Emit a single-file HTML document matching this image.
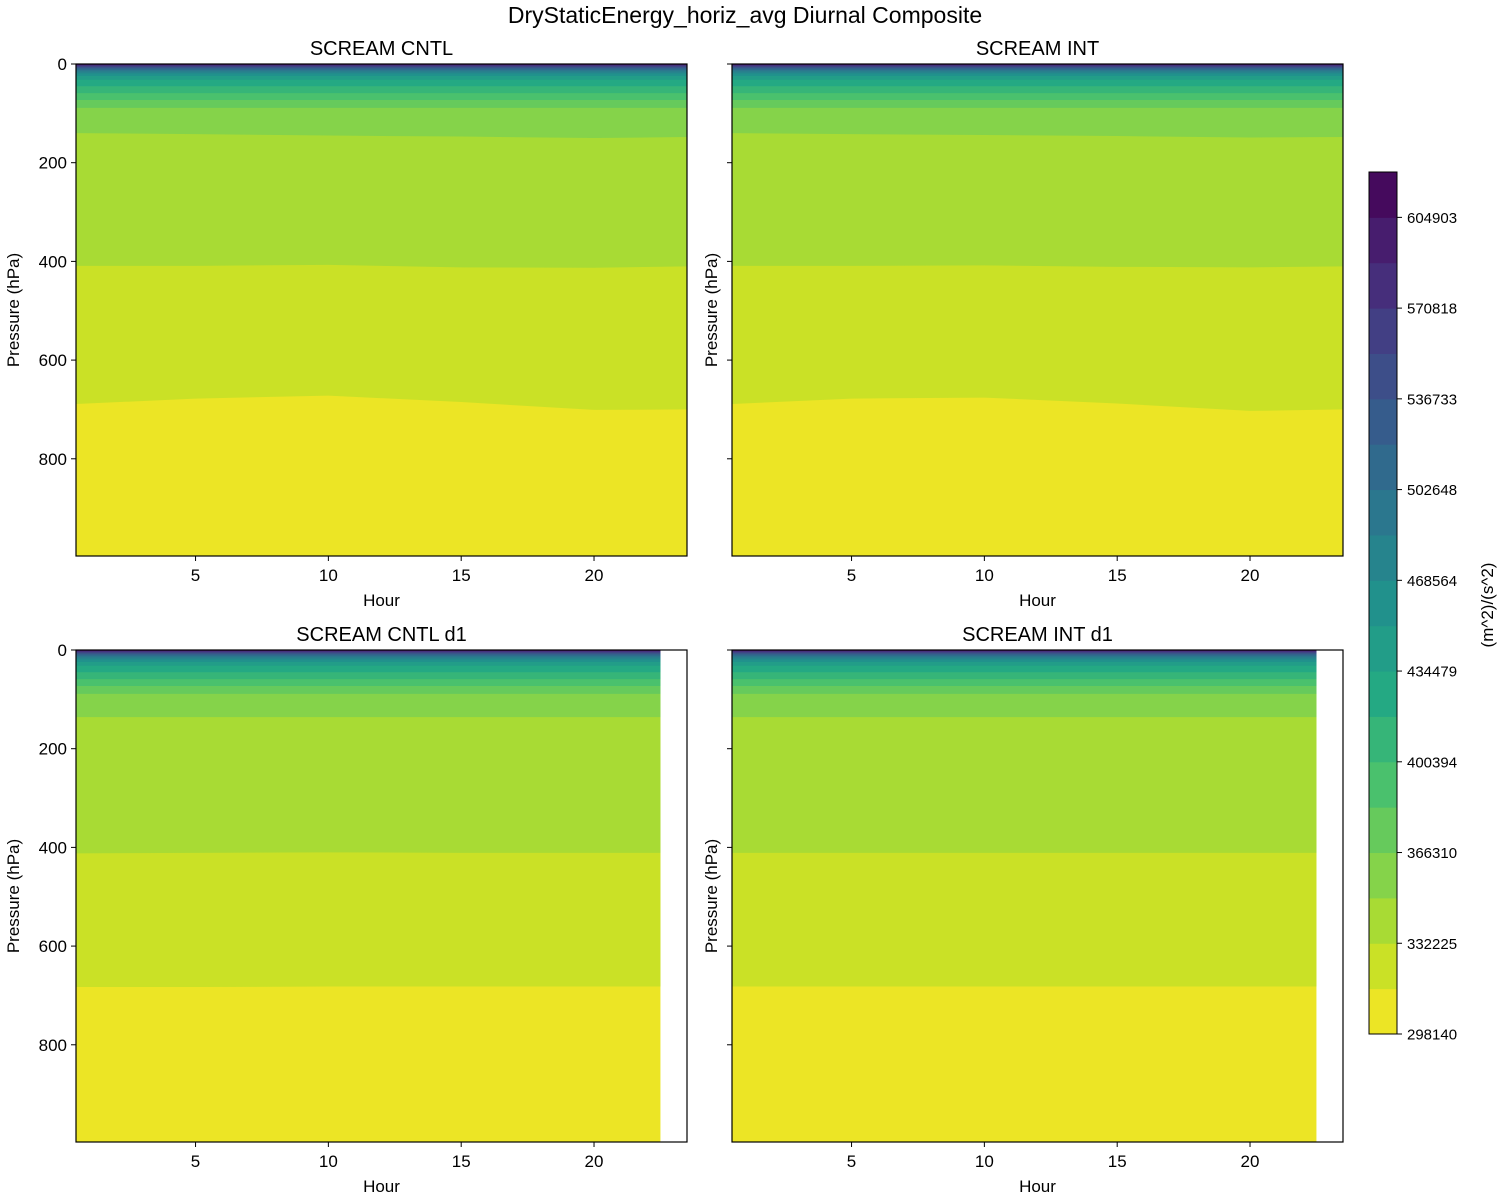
<!DOCTYPE html>
<html><head><meta charset="utf-8"><style>
body{margin:0;background:#fff}
svg{display:block;font-family:"Liberation Sans","DejaVu Sans",sans-serif}
</style></head><body>
<svg id="fig" width="1500" height="1200" xmlns="http://www.w3.org/2000/svg">
<text x="745" y="23" font-size="23" text-anchor="middle">DryStaticEnergy_horiz_avg Diurnal Composite</text>
</svg>
<script>
// ---- data ----
const levelMin = 298140;
const levelStep = 17042.5;
const levelCount = 19;
const cbTickValues = [298140, 332225, 366310, 400394, 434479, 468564, 502648, 536733, 570818, 604903];
const hours = [0.5, 5, 10, 15, 20, 23.5];
const hoursD1 = [0.5, 5, 10, 15, 20, 22.5];
const upperLevelsP = [89, 73, 59, 45, 32, 24, 19, 15, 12, 9, 7, 5, 3.5, 2, 1, 0.5];
const cntlL1 = [689, 678, 672, 685, 701, 700];
const cntlL2 = [409, 409, 407, 412, 413, 410];
const cntlL3 = [140, 142, 145, 147, 150, 148];
const intL1 = [689, 678, 676, 688, 703, 700];
const intL2 = [409, 409, 408, 411, 412, 410];
const intL3 = [140, 142, 144, 146, 149, 148];
const cntlD1L1 = [683, 683, 682, 682, 682, 682];
const cntlD1L2 = [412, 411, 410, 411, 411, 411];
const cntlD1L3 = [136, 136, 136, 136, 136, 136];
const intD1L1 = [682, 682, 682, 682, 682, 682];
const intD1L2 = [411, 411, 411, 411, 411, 411];
const intD1L3 = [136, 136, 136, 136, 136, 136];
const yTicks = [0, 200, 400, 600, 800];
const xTicks = [5, 10, 15, 20];

// ---- helpers ----
const NS = "http://www.w3.org/2000/svg";
const svg = document.getElementById('fig');
function mk(tag, attrs, parent) {
  const e = document.createElementNS(NS, tag);
  for (const k in attrs) e.setAttribute(k, attrs[k]);
  (parent || svg).appendChild(e);
  return e;
}
const vir = ["#440154","#482475","#414487","#355f8d","#2a788e","#21918c","#22a884","#44bf70","#7ad151","#bddf26","#fde725"];
function hex(c){return [parseInt(c.substr(1,2),16),parseInt(c.substr(3,2),16),parseInt(c.substr(5,2),16)];}
function viridis(t){
  t=Math.max(0,Math.min(1,t));const f=t*10,i=Math.min(9,Math.floor(f)),u=f-i;
  const a=hex(vir[i]),b=hex(vir[i+1]);
  return "rgb("+a.map((v,j)=>Math.round(v+(b[j]-v)*u)).join(",")+")";
}
function bandColor(k){return viridis(1-(k+0.5)/levelCount);}

function panel(opts) {
  const {x0, y0, w, h, title, hrs, L1, L2, L3, labelY, name} = opts;
  const g = mk('g', {}, svg);
  
  
  const xs = v => x0 + (v - 0.5) / 23 * w;
  const ys = p => y0 + p / 997 * h;
  const xEnd = hrs[hrs.length - 1];
  const bg = mk('rect', {x: xs(0.5), y: y0, width: xs(xEnd) - xs(0.5), height: h, fill: bandColor(0)}, g);
  
  
  const boundaries = [L1, L2, L3].concat(upperLevelsP.map(p => hrs.map(() => p)));
  boundaries.forEach((arr, i) => {
    let d = "M" + xs(hrs[0]) + "," + y0;
    hrs.forEach((hr, j) => { d += " L" + xs(hr) + "," + ys(arr[j]); });
    d += " L" + xs(xEnd) + "," + y0 + " Z";
    const p = mk('path', {d: d, fill: bandColor(i + 1)}, g);
    
    
  });
  const fr = mk('rect', {x: x0, y: y0, width: w, height: h, fill: 'none', stroke: '#000', 'stroke-width': 1.2}, g);
  
  
  yTicks.forEach(v => {
    mk('line', {x1: x0 - 5, x2: x0, y1: ys(v), y2: ys(v), stroke: '#000'}, g);
    if (labelY) {
      const t = mk('text', {x: x0 - 9, y: ys(v) + 6, 'font-size': 17, 'text-anchor': 'end'}, g);
      t.textContent = v;
      
      
    }
  });
  xTicks.forEach(v => {
    mk('line', {x1: xs(v), x2: xs(v), y1: y0 + h, y2: y0 + h + 5, stroke: '#000'}, g);
    const t = mk('text', {x: xs(v), y: y0 + h + 25, 'font-size': 17, 'text-anchor': 'middle'}, g);
    t.textContent = v;
    
    
  });
  const xt = mk('text', {x: x0 + w / 2, y: y0 + h + 50, 'font-size': 17, 'text-anchor': 'middle'}, g);
  xt.textContent = 'Hour';
  
  
  const yl = labelY ? 19 : 717;
  const yt = mk('text', {x: yl, y: y0 + h / 2, 'font-size': 17, 'text-anchor': 'middle', transform: 'rotate(-90 ' + yl + ' ' + (y0 + h / 2) + ')'}, g);
  yt.textContent = 'Pressure (hPa)';
  
  
  const tt = mk('text', {x: x0 + w / 2, y: y0 - 9, 'font-size': 20, 'text-anchor': 'middle'}, g);
  tt.textContent = title;
  
  
}

panel({x0: 76, y0: 64, w: 611, h: 492, title: 'SCREAM CNTL', hrs: hours, L1: cntlL1, L2: cntlL2, L3: cntlL3, labelY: true, name: 'panel-cntl'});
panel({x0: 732, y0: 64, w: 611, h: 492, title: 'SCREAM INT', hrs: hours, L1: intL1, L2: intL2, L3: intL3, labelY: false, name: 'panel-int'});
panel({x0: 76, y0: 650, w: 611, h: 492, title: 'SCREAM CNTL d1', hrs: hoursD1, L1: cntlD1L1, L2: cntlD1L2, L3: cntlD1L3, labelY: true, name: 'panel-cntl-d1'});
panel({x0: 732, y0: 650, w: 611, h: 492, title: 'SCREAM INT d1', hrs: hoursD1, L1: intD1L1, L2: intD1L2, L3: intD1L3, labelY: false, name: 'panel-int-d1'});

// ---- colorbar ----
const cbX = 1369, cbW = 28, cbTop = 172, cbBot = 1034;
const levelMax = levelMin + levelStep * levelCount;
const cbY = v => cbBot - (v - levelMin) / (levelMax - levelMin) * (cbBot - cbTop);
const cb = mk('g', {}, svg);


for (let k = 0; k < levelCount; k++) {
  const r = mk('rect', {x: cbX, y: cbY(levelMin + (k + 1) * levelStep), width: cbW, height: cbY(levelMin + k * levelStep) - cbY(levelMin + (k + 1) * levelStep) + 0.5, fill: bandColor(k)}, cb);
  
  
}
mk('rect', {x: cbX, y: cbTop, width: cbW, height: cbBot - cbTop, fill: 'none', stroke: '#000', 'stroke-width': 1}, cb);
cbTickValues.forEach(v => {
  const y = cbY(v);
  mk('line', {x1: cbX + cbW, x2: cbX + cbW + 5, y1: y, y2: y, stroke: '#000'}, cb);
  const t = mk('text', {x: cbX + cbW + 10, y: y + 5.5, 'font-size': 15}, cb);
  t.textContent = v;
  
  
});
const cl = mk('text', {x: 1493, y: 605, 'font-size': 17, 'text-anchor': 'middle', transform: 'rotate(-90 1493 605)'}, cb);
cl.textContent = '(m^2)/(s^2)';


</script>
</body></html>
